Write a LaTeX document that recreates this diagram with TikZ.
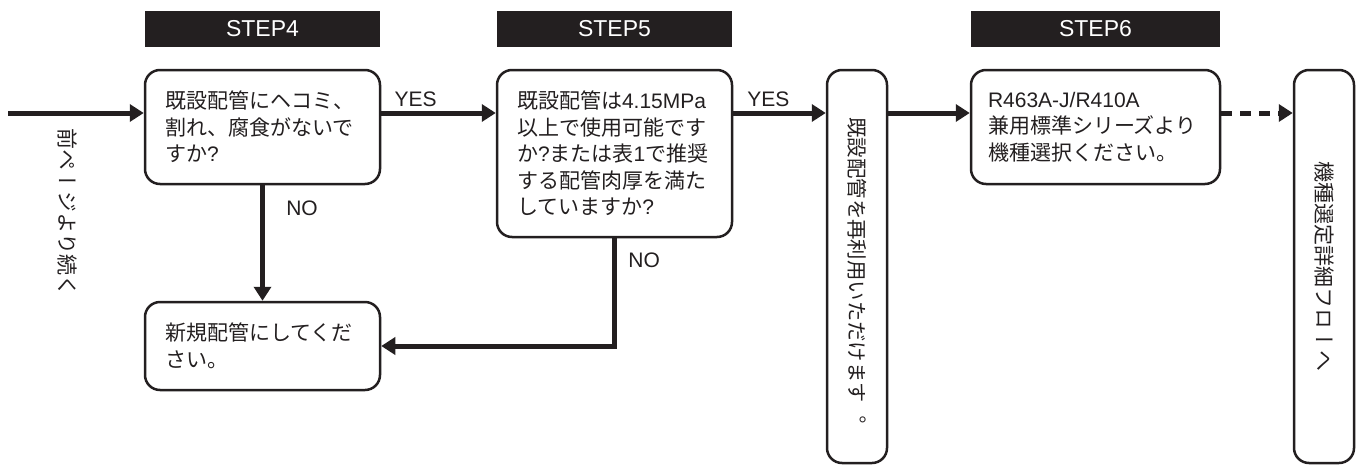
\documentclass[tikz,border=0pt]{standalone}
\usepackage{fontspec}
\setmainfont{Noto Sans CJK JP}
\newfontfamily\tatefont[Vertical=RotatedGlyphs]{Noto Sans CJK JP}
\newfontfamily\latinfont{Liberation Sans}
\usetikzlibrary{positioning, arrows.meta, calc}
\definecolor{cInk}{RGB}{35,31,32}

\begin{document}
\begin{tikzpicture}[x=1pt, y=-1pt,
    every node/.style={font=\fontsize{21}{26.5}\selectfont, text=cInk},
    stepbar/.style={fill=cInk, text=white, minimum width=235pt, minimum height=36pt, inner sep=0pt,
                    font=\latinfont\fontsize{23}{26}\selectfont},
    qbox/.style={draw=cInk, line width=2.5pt, rounded corners=15pt, align=left, inner xsep=20pt, text width=195pt},
    tatebox/.style={draw=cInk, line width=2.5pt, rounded corners=15pt, minimum width=60pt, minimum height=393pt, inner sep=0pt},
    flow/.style={draw=cInk, line width=5pt, -{Triangle[length=14pt, width=17pt]}},
    ans/.style={font=\latinfont\fontsize{21}{24}\selectfont}]

    \useasboundingbox (0,0) rectangle (1362,466);

    % STEP headers
    \node[stepbar] (step4) at (262.5,29) {STEP4};
    \node[stepbar] (step5) at (614.5,29) {STEP5};
    \node[stepbar, minimum width=249pt] (step6) at (1095.5,29) {STEP6};

    % Defining the boxes
    \node[qbox, minimum height=114pt] (q4) at (262.5,127)
        {既設配管にヘコミ、\\割れ、腐食がないで\\すか{\latinfont ?}};
    \node[qbox, minimum height=167pt] (q5) at (614.5,153.5)
        {既設配管は{\latinfont 4.15MPa}\\以上で使用可能です\\か{\latinfont ?}または表{\latinfont 1}で推奨\\する配管肉厚を満た\\していますか{\latinfont ?}};
    \node[qbox, minimum height=88pt] (renew) at (262.5,346) {新規配管にしてくだ\\さい。};
    \node[tatebox] (reuse) at (857,266.5)
        {\raisebox{-8pt}{\rotatebox{-90}{\tatefont\fontsize{20.4}{24}\selectfont 既設配管を再利用いただけます。}}};
    \node[qbox, text width=215pt, inner xsep=17pt, minimum height=114pt] (q6) at (1095.5,127)
        {{\latinfont R463A-J/R410A}\\兼用標準シリーズより\\機種選択ください。};
    \node[tatebox] (detail) at (1324,266.5) {\rotatebox{-90}{\tatefont 機種選定詳細フローへ}};

    % Coming from the previous page
    \coordinate (start) at (8,113);
    \node (prev) at (68,212) {\rotatebox{-90}{\tatefont 前ページより続く}};

    % Paths and transitions
    \path[every edge/.style={flow}]
    (start) edge (start -| q4.west)
    (q4.east |- start) edge node[ans, above, pos=0.3] {YES} (q5.west |- start)
    (q5.east |- start) edge node[ans, above, pos=0.38] {YES} (reuse.west |- start)
    (reuse.east |- start) edge (q6.west |- start)
    (q6.east |- start) edge[dash pattern=on 11pt off 8pt] (detail.west |- start)
    (q4.south) edge node[ans, right=18pt, pos=0.2] {NO} (renew.north);
    \draw[flow] (q5.south) |- node[ans, right=8pt, pos=0.1] {NO} (renew.east);

\end{tikzpicture}
\end{document}
